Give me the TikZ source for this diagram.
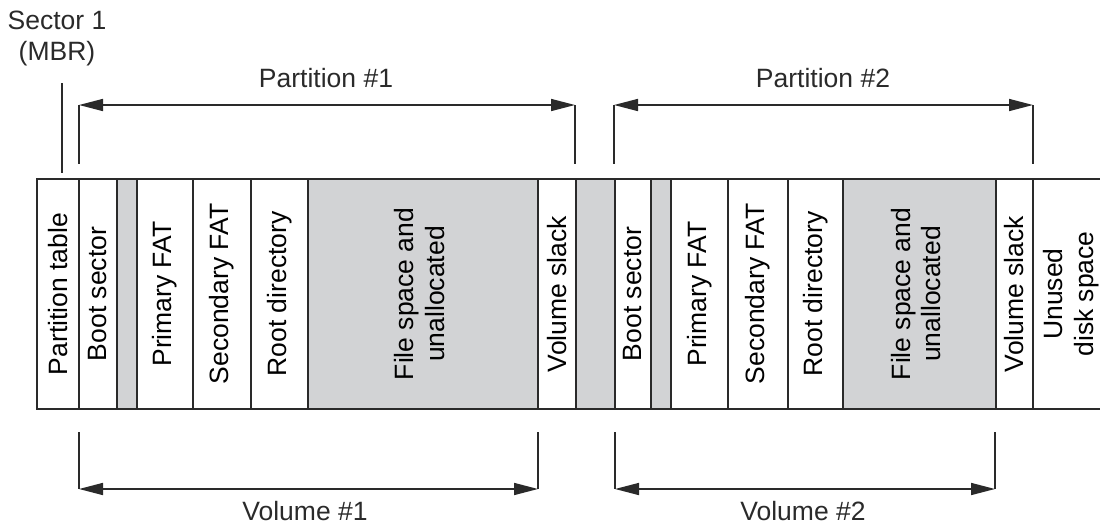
\documentclass[tikz,border=0pt]{standalone}
\usepackage{fontspec}
\setmainfont{Liberation Sans}
\usetikzlibrary{arrows.meta}
\definecolor{shade}{HTML}{D2D3D5}
\definecolor{ink}{HTML}{2A2A2A}
\tikzset{
  cell/.style={draw=ink, line width=1.6pt, minimum height=230pt, inner sep=0pt, outer sep=0pt},
  graycell/.style={cell, fill=shade},
  dim/.style={draw=ink, line width=1.6pt},
  dimarrow/.style={dim, {Triangle[length=24pt,width=12pt]}-{Triangle[length=24pt,width=12pt]}},
  lbl/.style={inner sep=0pt, text=ink},
}
\newcommand{\rt}[1]{\rotatebox{90}{#1}}
\newcommand{\rtt}[2]{\rotatebox{90}{\begin{tabular}{@{}c@{}}#1\\[-0.5pt]#2\end{tabular}}}
\begin{document}
\begin{tikzpicture}[x=1pt,y=-1pt, font=\fontsize{26.5}{31}\selectfont]
\useasboundingbox (0,0) rectangle (1100,528);
% cells, y from 179 to 409
\node[cell, minimum width=42pt] (pt) at (58,294) {\rt{Partition table}};
\node[cell, minimum width=38pt] (bs1) at (98,294) {\rt{Boot sector}};
\node[graycell, minimum width=20pt] (g1) at (127,294) {};
\node[cell, minimum width=56pt] (pf1) at (165,294) {\rt{Primary FAT}};
\node[cell, minimum width=58pt] (sf1) at (222,294) {\rt{Secondary FAT}};
\node[cell, minimum width=57pt] (rd1) at (279.5,294) {\rt{Root directory}};
\node[graycell, minimum width=230pt] (fs1) at (423,294) {\rtt{File space and}{unallocated}};
\node[cell, minimum width=38pt] (vs1) at (557,294) {\rt{Volume slack}};
\node[graycell, minimum width=39pt] (g2) at (595.5,294) {};
\node[cell, minimum width=36pt] (bs2) at (633,294) {\rt{Boot sector}};
\node[graycell, minimum width=20pt] (g3) at (661,294) {};
\node[cell, minimum width=57pt] (pf2) at (699.5,294) {\rt{Primary FAT}};
\node[cell, minimum width=60pt] (sf2) at (758,294) {\rt{Secondary FAT}};
\node[cell, minimum width=55pt] (rd2) at (815.5,294) {\rt{Root directory}};
\node[graycell, minimum width=153pt] (fs2) at (919.5,294) {\rtt{File space and}{unallocated}};
\node[cell, minimum width=37pt] (vs2) at (1014.5,294) {\rt{Volume slack}};
\node[cell, minimum width=78pt] (un) at (1072,294) {\rtt{Unused}{disk space}};

% Sector 1 (MBR)
\node[lbl, align=center] (mbr) at (57,38) {Sector 1\\(MBR)};
\coordinate (mbrtop) at (62,83);
\coordinate (mbrbot) at (62,173);
\draw[dim] (mbrtop) -- (mbrbot);

% Partition #1
\coordinate (p1l) at (79,105);
\coordinate (p1lb) at (79,164);
\coordinate (p1r) at (575,105);
\coordinate (p1rb) at (575,164);
\draw[dim] (p1l) -- (p1lb);
\draw[dim] (p1r) -- (p1rb);
\draw[dimarrow] (p1l) -- (p1r);
\node[lbl] (p1) at (326,78) {Partition \#1};

% Partition #2
\coordinate (p2l) at (614,105);
\coordinate (p2lb) at (614,164);
\coordinate (p2r) at (1033,105);
\coordinate (p2rb) at (1033,164);
\draw[dim] (p2l) -- (p2lb);
\draw[dim] (p2r) -- (p2rb);
\draw[dimarrow] (p2l) -- (p2r);
\node[lbl] (p2) at (823,78) {Partition \#2};

% Volume #1
\coordinate (v1l) at (79,489);
\coordinate (v1lt) at (79,432);
\coordinate (v1r) at (538,489);
\coordinate (v1rt) at (538,432);
\draw[dim] (v1lt) -- (v1l);
\draw[dim] (v1rt) -- (v1r);
\draw[dimarrow] (v1l) -- (v1r);
\node[lbl] (v1) at (305,511) {Volume \#1};

% Volume #2
\coordinate (v2l) at (615,489);
\coordinate (v2lt) at (615,432);
\coordinate (v2r) at (995,489);
\coordinate (v2rt) at (995,432);
\draw[dim] (v2lt) -- (v2l);
\draw[dim] (v2rt) -- (v2r);
\draw[dimarrow] (v2l) -- (v2r);
\node[lbl] (v2) at (803,511) {Volume \#2};
\end{tikzpicture}
\end{document}
